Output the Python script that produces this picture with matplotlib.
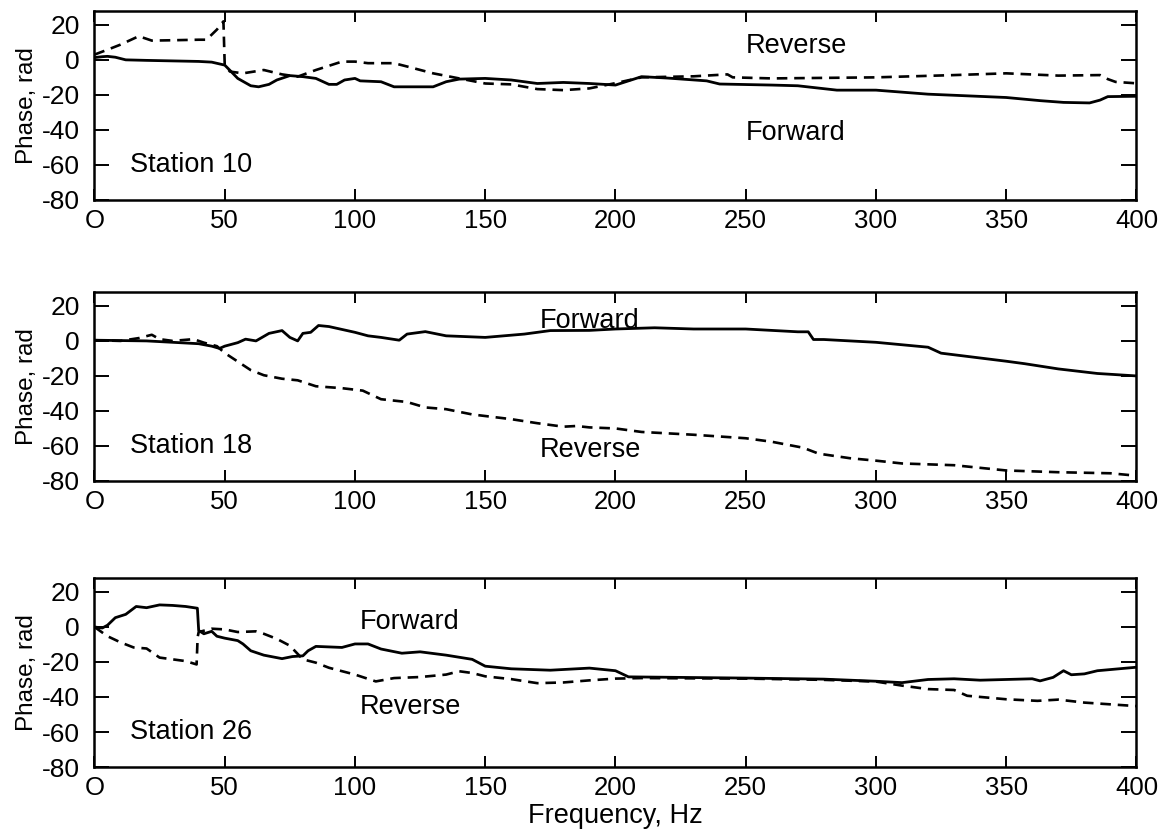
import matplotlib
matplotlib.use("Agg")
import matplotlib.pyplot as plt

plt.rcParams['font.family'] = ['Liberation Sans', 'DejaVu Sans']
plt.rcParams['axes.unicode_minus'] = False

# Station 10
f10_fwd = [0, 3, 5, 8, 12, 20, 30, 40, 45, 50, 52, 55, 60, 63, 67, 70, 75, 80, 85, 90, 93, 96,
           100, 102, 110, 115, 120, 130, 135, 140, 150, 160, 170, 180, 190, 200, 205, 210, 220,
           235, 240, 260, 270, 285, 300, 320, 350, 363, 372, 382, 386, 389, 400]
p10_fwd = [1.3, 1.8, 2, 1.5, 0, -0.3, -0.6, -0.9, -1.3, -3, -6, -10.6, -14.8, -15.4, -14, -11.5,
           -9, -9.6, -10.6, -14, -14, -11.5, -10.6, -12, -12.5, -15.4, -15.4, -15.4, -12.5, -11,
           -10.6, -11.5, -13.5, -12.9, -13.5, -14.4, -12, -9.6, -10.4, -12, -13.8, -14.4, -14.8,
           -17.3, -17.3, -19.6, -21.5, -23.3, -24.3, -24.6, -23, -21, -20.8]
f10_rev = [0, 5, 10, 17, 22, 30, 40, 43, 47, 49.5, 50, 52, 57, 65, 72, 78, 85, 95, 100, 105, 115,
           120, 130, 140, 150, 160, 170, 180, 190, 200, 210, 230, 243, 245, 260, 300, 330, 350,
           370, 386, 389, 392, 400]
p10_rev = [3, 5.8, 8.7, 13.5, 11, 11.2, 11.5, 11.5, 17.3, 22, -3, -6.7, -7.7, -5.8, -8.3, -9.6,
           -5.8, -1, -1, -1.9, -1.9, -3.8, -7.7, -10.6, -13.5, -14, -16.7, -17.3, -16.3, -13.3,
           -10, -9.4, -8.3, -10, -10.6, -10, -8.7, -7.7, -9, -8.7, -11, -12.6, -13.4]

# Station 18
f18_fwd = [0, 20, 40, 45, 48, 50, 55, 58, 62, 67, 72, 75, 78, 80, 83, 86, 90, 100, 105, 110, 117,
           120, 127, 135, 150, 165, 175, 190, 200, 215, 230, 250, 270, 274, 276, 280, 300, 320,
           325, 350, 357, 370, 385, 400]
p18_fwd = [0.4, 0, -1.6, -3, -4.3, -3, -1, 1, 0, 4.3, 5.9, 2, 0, 4.3, 4.9, 8.8, 8.2, 4.9, 2.9, 2,
           0.4, 3.9, 5.3, 2.9, 2, 3.9, 5.9, 6, 6.8, 7.5, 6.8, 6.8, 5.2, 5.2, 0.8, 0.8, -0.8, -3.6,
           -7, -11.6, -13, -16, -18.6, -20]
f18_rev = [0, 10, 17, 22, 25, 30, 38, 42, 47, 50, 55, 60, 65, 72, 78, 85, 95, 103, 110, 120, 127,
           135, 145, 160, 170, 180, 185, 190, 200, 210, 230, 250, 260, 272, 278, 290, 300, 310,
           330, 350, 370, 390, 400]
p18_rev = [0.4, 0, 1.6, 3.5, 1, 0, 1, -1, -3, -6.9, -11.8, -16.7, -19.6, -21.6, -22.5, -25.9, -27,
           -28.4, -33.3, -34.9, -38, -39, -42, -44.7, -47, -49, -48.6, -49.4, -50, -52, -53.6,
           -55.6, -57.6, -61, -64.4, -67, -68.4, -70, -71, -74, -75, -75.6, -77]

# Station 26
f26_fwd = [0, 3, 5, 8, 12, 16, 20, 25, 30, 35, 39.5, 40, 42, 45, 47, 50, 55, 57, 60, 65, 72, 76,
           80, 82, 85, 95, 100, 105, 110, 118, 125, 135, 145, 150, 160, 175, 190, 200, 205, 250,
           280, 300, 310, 320, 330, 340, 350, 360, 363, 368, 372, 375, 380, 385, 400]
p26_fwd = [0, -0.6, 1, 5.3, 7.2, 11.7, 11, 12.6, 12.3, 11.7, 10.7, -2, -3.9, -2.5, -5.3, -6.4,
           -7.8, -9.7, -13.6, -16.1, -18.1, -16.9, -16.5, -13.6, -11.1, -11.7, -9.7, -9.7, -12.6,
           -15, -14.2, -16.1, -18.5, -22.4, -23.9, -24.7, -23.5, -25, -28.5, -29.2, -29.8, -31,
           -31.8, -30, -29.6, -30.4, -30, -29.6, -30.8, -28.8, -25, -27.3, -26.8, -25, -23]
f26_rev = [0, 5, 10, 15, 20, 25, 30, 35, 39.2, 39.6, 40, 45, 50, 55, 62, 65, 70, 75, 80, 85, 90,
           100, 108, 115, 125, 135, 140, 145, 150, 160, 170, 180, 190, 200, 210, 250, 280, 300,
           310, 320, 330, 335, 350, 362, 370, 380, 390, 400]
p26_rev = [0, -5.3, -8.8, -11.7, -12.3, -17.5, -18.5, -19.5, -21.4, -5.8, -2.9, -1, -1.4, -2.9,
           -2.5, -3.9, -6.8, -10.7, -18.5, -20.4, -23.3, -27.2, -31.1, -29.2, -28.6, -27.2, -25.3,
           -26.3, -28.2, -29.8, -32.1, -31.7, -30.5, -29.5, -29.2, -29.5, -30.2, -31.2, -33.5,
           -35.5, -36, -39.3, -41.3, -42.2, -41.5, -43.2, -44.2, -45.2]

freq_ticks = [0, 50, 100, 150, 200, 250, 300, 350, 400]
freq_labels = ['O', '50', '100', '150', '200', '250', '300', '350', '400']
phase_ticks = [-80, -60, -40, -20, 0, 20]

panels = [
    (f10_fwd, p10_fwd, f10_rev, p10_rev, 'Station 10',
     [('Reverse', 250, 8), ('Forward', 250, -41.5)]),
    (f18_fwd, p18_fwd, f18_rev, p18_rev, 'Station 18',
     [('Forward', 171, 11.5), ('Reverse', 171, -62.5)]),
    (f26_fwd, p26_fwd, f26_rev, p26_rev, 'Station 26',
     [('Forward', 102, 3), ('Reverse', 102, -46)]),
]

fig = plt.figure(figsize=(11.65, 8.33), dpi=100)
bottoms = [0.760, 0.4226, 0.0792]
for (xf, yf, xr, yr, name, notes), b in zip(panels, bottoms):
    ax = fig.add_axes([0.0811, b, 0.8944, 0.227])
    ax.plot(xf, yf, color='black', lw=2.0)
    ax.plot(xr, yr, color='black', lw=1.9, linestyle=(0, (4, 2.6)))
    ax.set_xlim(0, 400)
    ax.set_ylim(-80, 28)
    ax.set_xticks(freq_ticks)
    ax.set_xticklabels(freq_labels)
    ax.set_yticks(phase_ticks)
    ax.tick_params(direction='in', top=True, right=True, width=1.4)
    ax.tick_params(axis='x', length=8, labelsize=18.5, pad=6.5)
    ax.tick_params(axis='y', length=11, labelsize=19, pad=10.5)
    for s in ax.spines.values():
        s.set_linewidth(1.8)
    ax.set_ylabel('Phase, rad', fontsize=17.5, labelpad=3)
    ax.text(13.6, -60, name, fontsize=19.5, va='center', ha='left')
    for txt, x, y in notes:
        ax.text(x, y, txt, fontsize=19.5, va='center', ha='left')

ax.set_xlabel('Frequency, Hz', fontsize=19.5, labelpad=2)

fig.savefig('out.png', dpi=100)
